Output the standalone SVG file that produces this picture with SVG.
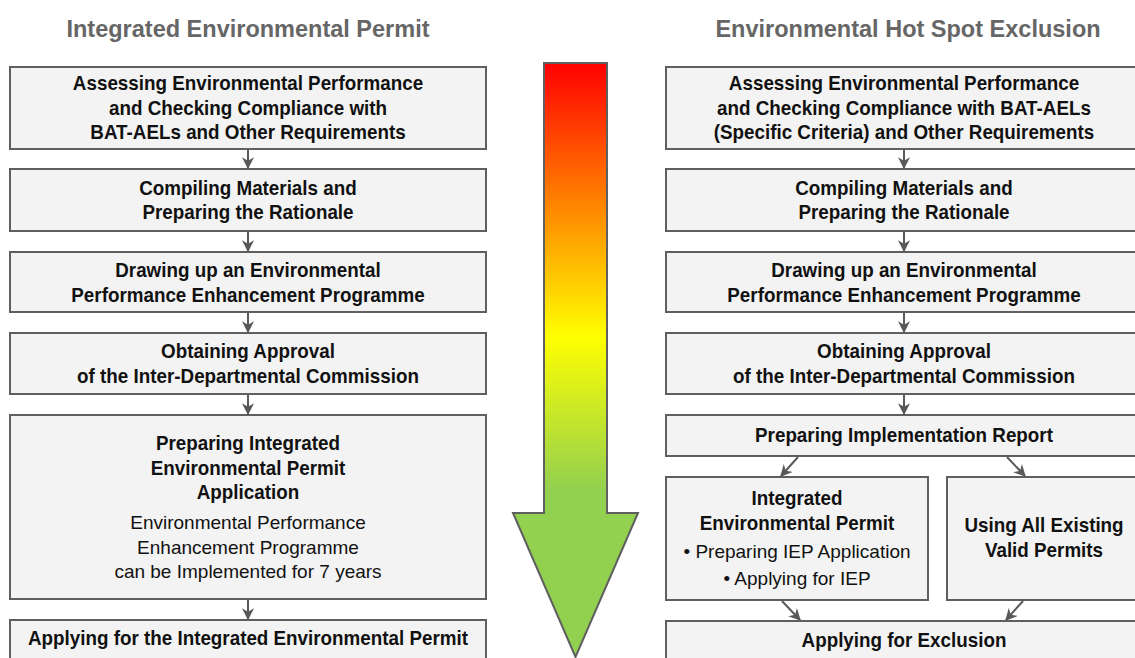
<svg xmlns="http://www.w3.org/2000/svg" width="1135" height="658" viewBox="0 0 1135 658">
  <defs>
    <linearGradient id="heat" x1="0" y1="0" x2="0" y2="1">
      <stop offset="0" stop-color="#FF0000"/>
      <stop offset="0.22" stop-color="#FF7A00"/>
      <stop offset="0.46" stop-color="#FFFF00"/>
      <stop offset="0.72" stop-color="#92D050"/>
      <stop offset="1" stop-color="#92D050"/>
    </linearGradient>
    <marker id="ah" viewBox="0 0 10 10" refX="9" refY="5" markerWidth="12" markerHeight="12" markerUnits="userSpaceOnUse" orient="auto">
      <path d="M0,0 L10,5 L0,10 L3,5 z" fill="#595959"/>
    </marker>
    <style>
      .box { fill: #F3F3F3; stroke: #5F5F5F; stroke-width: 2; }
      .title { font-family: "Liberation Sans", Arial, sans-serif; font-weight: bold; font-size: 23.5px; fill: #666666; text-anchor: middle; }
      .b { font-family: "Liberation Sans", Arial, sans-serif; font-weight: bold; font-size: 19.5px; fill: #111111; text-anchor: middle; }
      .r { font-family: "Liberation Sans", Arial, sans-serif; font-size: 19px; fill: #111111; text-anchor: middle; }
      .con { stroke: #595959; stroke-width: 2; fill: none; marker-end: url(#ah); }
    </style>
  </defs>
  <rect width="1135" height="658" fill="#FFFFFF"/>

  <g id="titles">
    <text class="title" x="248" y="37">Integrated Environmental Permit</text>
    <text class="title" x="908" y="37">Environmental Hot Spot Exclusion</text>
  </g>

  <g id="heat-arrow">
    <path d="M544,63 L607,63 L607,513 L638,513 L575.5,657 L513,513 L544,513 Z" fill="url(#heat)" stroke="#5F5F5F" stroke-width="2"/>
  </g>

  <!-- Left column -->
  <g id="L1">
    <rect class="box" x="10" y="67" width="476" height="82"/>
    <g transform="matrix(0.965,0,0,1,8.68,0)">
      <text class="b" x="248" y="90">Assessing Environmental Performance</text>
      <text class="b" x="248" y="115">and Checking Compliance with</text>
      <text class="b" x="248" y="139">BAT-AELs and Other Requirements</text>
    </g>
  </g>
  <g id="L2">
    <rect class="box" x="10" y="169" width="476" height="62"/>
    <g transform="matrix(0.965,0,0,1,8.68,0)">
      <text class="b" x="248" y="195">Compiling Materials and</text>
      <text class="b" x="248" y="219">Preparing the Rationale</text>
    </g>
  </g>
  <g id="L3">
    <rect class="box" x="10" y="252" width="476" height="60"/>
    <g transform="matrix(0.965,0,0,1,8.68,0)">
      <text class="b" x="248" y="277">Drawing up an Environmental</text>
      <text class="b" x="248" y="302">Performance Enhancement Programme</text>
    </g>
  </g>
  <g id="L4">
    <rect class="box" x="10" y="333" width="476" height="61"/>
    <g transform="matrix(0.965,0,0,1,8.68,0)">
      <text class="b" x="248" y="358">Obtaining Approval</text>
      <text class="b" x="248" y="383">of the Inter-Departmental Commission</text>
    </g>
  </g>
  <g id="L5">
    <rect class="box" x="10" y="415" width="476" height="184"/>
    <g transform="matrix(0.965,0,0,1,8.68,0)">
      <text class="b" x="248" y="450">Preparing Integrated</text>
      <text class="b" x="248" y="475">Environmental Permit</text>
      <text class="b" x="248" y="499">Application</text>
    </g>
    <text class="r" x="248" y="529">Environmental Performance</text>
    <text class="r" x="248" y="554">Enhancement Programme</text>
    <text class="r" x="248" y="578">can be Implemented for 7 years</text>
  </g>
  <g id="L6">
    <rect class="box" x="10" y="620" width="476" height="60"/>
    <g transform="matrix(0.965,0,0,1,8.68,0)">
      <text class="b" x="248" y="645">Applying for the Integrated Environmental Permit</text>
    </g>
  </g>

  <!-- Right column -->
  <g id="R1">
    <rect class="box" x="666" y="67" width="476" height="82"/>
    <g transform="matrix(0.965,0,0,1,31.64,0)">
      <text class="b" x="904" y="90">Assessing Environmental Performance</text>
      <text class="b" x="904" y="115">and Checking Compliance with BAT-AELs</text>
      <text class="b" x="904" y="139">(Specific Criteria) and Other Requirements</text>
    </g>
  </g>
  <g id="R2">
    <rect class="box" x="666" y="169" width="476" height="62"/>
    <g transform="matrix(0.965,0,0,1,31.64,0)">
      <text class="b" x="904" y="195">Compiling Materials and</text>
      <text class="b" x="904" y="219">Preparing the Rationale</text>
    </g>
  </g>
  <g id="R3">
    <rect class="box" x="666" y="252" width="476" height="60"/>
    <g transform="matrix(0.965,0,0,1,31.64,0)">
      <text class="b" x="904" y="277">Drawing up an Environmental</text>
      <text class="b" x="904" y="302">Performance Enhancement Programme</text>
    </g>
  </g>
  <g id="R4">
    <rect class="box" x="666" y="333" width="476" height="61"/>
    <g transform="matrix(0.965,0,0,1,31.64,0)">
      <text class="b" x="904" y="358">Obtaining Approval</text>
      <text class="b" x="904" y="383">of the Inter-Departmental Commission</text>
    </g>
  </g>
  <g id="R5">
    <rect class="box" x="666" y="415" width="476" height="41"/>
    <g transform="matrix(0.965,0,0,1,31.64,0)">
      <text class="b" x="904" y="442">Preparing Implementation Report</text>
    </g>
  </g>
  <g id="R6a">
    <rect class="box" x="666" y="477" width="262" height="123"/>
    <g transform="matrix(0.965,0,0,1,27.9,0)">
      <text class="b" x="797" y="505">Integrated</text>
      <text class="b" x="797" y="530">Environmental Permit</text>
    </g>
    <text class="r" x="797" y="558">• Preparing IEP Application</text>
    <text class="r" x="797" y="585">• Applying for IEP</text>
  </g>
  <g id="R6b">
    <rect class="box" x="947" y="477" width="195" height="123"/>
    <g transform="matrix(0.965,0,0,1,36.54,0)">
      <text class="b" x="1044" y="532">Using All Existing</text>
      <text class="b" x="1044" y="557">Valid Permits</text>
    </g>
  </g>
  <g id="R7">
    <rect class="box" x="666" y="621" width="476" height="60"/>
    <g transform="matrix(0.965,0,0,1,31.64,0)">
      <text class="b" x="904" y="647">Applying for Exclusion</text>
    </g>
  </g>

  <g id="connectors">
    <line class="con" x1="248" y1="150" x2="248" y2="168"/>
    <line class="con" x1="248" y1="232" x2="248" y2="251"/>
    <line class="con" x1="248" y1="313" x2="248" y2="332"/>
    <line class="con" x1="248" y1="395" x2="248" y2="414"/>
    <line class="con" x1="248" y1="600" x2="248" y2="619"/>
    <line class="con" x1="904" y1="150" x2="904" y2="168"/>
    <line class="con" x1="904" y1="232" x2="904" y2="251"/>
    <line class="con" x1="904" y1="313" x2="904" y2="332"/>
    <line class="con" x1="904" y1="395" x2="904" y2="414"/>
    <line class="con" x1="798" y1="457" x2="781" y2="476"/>
    <line class="con" x1="1007" y1="457" x2="1025" y2="476"/>
    <line class="con" x1="782" y1="601" x2="800" y2="620"/>
    <line class="con" x1="1023" y1="601" x2="1006" y2="620"/>
  </g>
</svg>
